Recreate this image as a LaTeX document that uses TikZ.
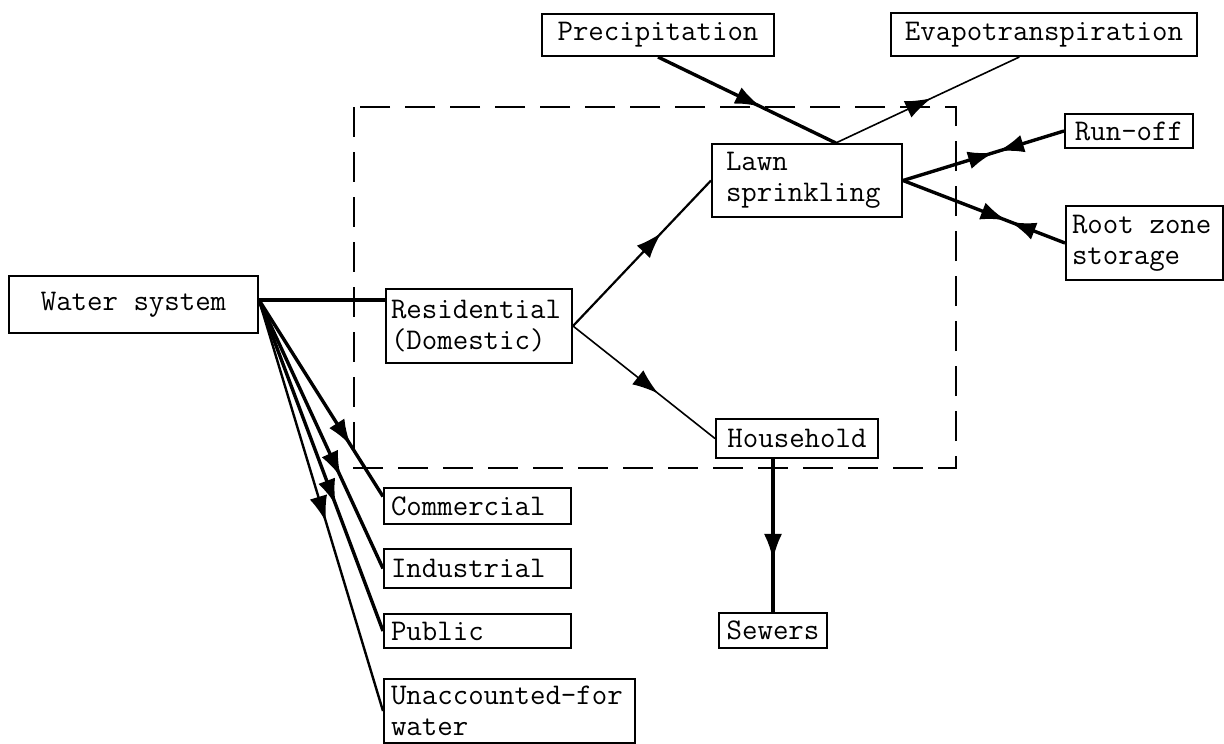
\documentclass[tikz,border=0pt]{standalone}
\usetikzlibrary{arrows.meta,decorations.markings,calc}
\newcommand\diafont{\fontsize{30}{31}\selectfont\ttfamily}
\tikzset{
  tipA/.tip={Latex[length=26pt,width=18pt]},
  box/.style={draw, line width=2pt, inner ysep=0pt, font=\diafont, anchor=north west},
  lbox/.style={box, align=left},
  cbox/.style={box, align=center},
  heavy/.style={line width=3.4pt},
  light/.style={line width=1.6pt},
  midarrow/.style={decoration={markings, mark=at position #1 with {\arrow{tipA}}}, postaction={decorate}},
  twoarrows/.style 2 args={decoration={markings,
      mark=at position #1 with {\arrow{tipA}},
      mark=at position #2 with {\arrowreversed{tipA}}}, postaction={decorate}},
  zone/.style={line width=2pt, dash pattern=on 30pt off 15pt}
}
\begin{document}
\begin{tikzpicture}[x=1pt, y=-1pt]
\useasboundingbox (0,0) rectangle (1224,744);
\fill[white] (0,0) rectangle (1224,744);

% dashed system boundary
\draw[zone] (354,107) rectangle (956,468);

% boxes
\node[cbox, minimum width=249pt, minimum height=57pt, inner xsep=4pt] (ws) at (8,275) {Water system};
\node[lbox, text width=176pt, inner xsep=5pt, minimum height=74pt] (res) at (385,288) {Residential\\(Domestic)};
\node[lbox, text width=162pt, inner xsep=14pt, minimum height=73pt] (lawn) at (711,143) {Lawn\\sprinkling};
\node[cbox, minimum width=162pt, minimum height=39pt, inner xsep=4pt] (hh) at (715,418) {Household};
\node[cbox, minimum width=108pt, minimum height=35pt, inner xsep=4pt] (sew) at (718,612) {Sewers};
\node[cbox, minimum width=232pt, minimum height=42pt, inner xsep=4pt] (pre) at (541,13) {Precipitation};
\node[cbox, minimum width=306pt, minimum height=43pt, inner xsep=4pt] (evap) at (890,12) {Evapotranspiration};
\node[cbox, minimum width=128pt, minimum height=34pt, inner xsep=4pt] (run) at (1064,113) {Run-off};
\node[lbox, text width=145pt, inner xsep=6pt, minimum height=74pt] (root) at (1065,205) {Root\hspace*{15.75pt}zone\\storage};
\node[lbox, text width=173pt, inner xsep=7pt, minimum height=36pt] (com) at (383,487) {Commercial};
\node[lbox, text width=173pt, inner xsep=7pt, minimum height=39pt] (ind) at (383,548) {Industrial};
\node[lbox, text width=173pt, inner xsep=7pt, minimum height=34pt] (pub) at (383,613) {Public};
\node[lbox, text width=237pt, inner xsep=7pt, minimum height=64pt] (una) at (383,678) {Unaccounted-for\\water};

% connector end points
\coordinate (wsO) at ($(ws.north east)+(0,25)$);
\coordinate (comIn) at ($(com.north west)!0.25!(com.south west)$);
\coordinate (lawnTop) at ($(lawn.north west)!0.65!(lawn.north east)$);
\coordinate (evapIn) at ($(evap.south west)!0.42!(evap.south east)$);

% water system connectors
\draw[heavy] (wsO) -- (wsO -| res.west);
\draw[heavy, midarrow=0.74] (wsO) -- (comIn);
\draw[heavy, midarrow=0.66] (wsO) -- (ind.west);
\draw[heavy, midarrow=0.62] (wsO) -- (pub.west);
\draw[line width=2.4pt, midarrow=0.54] (wsO) -- (una.west);

% residential connectors
\draw[line width=2.2pt, midarrow=0.64] (res.east) -- (lawn.west);
\draw[light, midarrow=0.6] (res.east) -- (hh.west);

% household to sewers
\draw[heavy, midarrow=0.66] (sew.north |- hh.south) -- (sew.north);

% lawn sprinkling connectors
\draw[heavy, midarrow=0.58] (pre.south) -- (lawnTop);
\draw[light, midarrow=0.52] (lawnTop) -- (evapIn);
\draw[heavy, twoarrows={0.565}{0.59}] (lawn.east) -- (run.west);
\draw[heavy, twoarrows={0.64}{0.66}] (lawn.east) -- (root.west);
\end{tikzpicture}
\end{document}
